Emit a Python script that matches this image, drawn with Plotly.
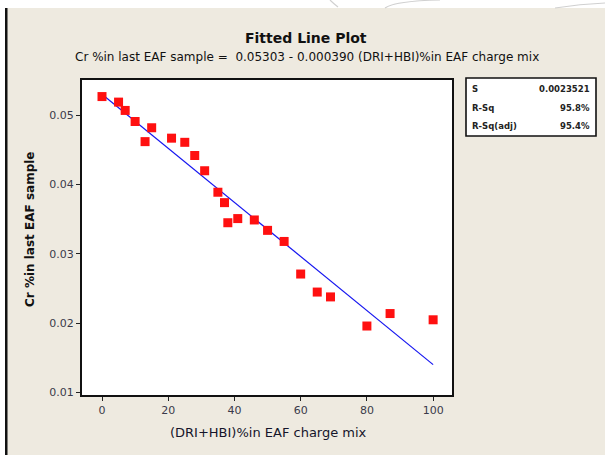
import plotly.graph_objects as go

# Observations: (DRI+HBI) share of the EAF charge mix vs Cr content of the last sample
dri_hbi_pct = [0, 5, 7, 10, 13, 15, 21, 25, 28, 31, 35, 37, 38, 41, 46, 50,
               55, 60, 65, 69, 80, 87, 100]
cr_pct = [0.0527, 0.0519, 0.0507, 0.0491, 0.0462, 0.0482, 0.0467, 0.0461,
          0.0442, 0.0420, 0.0389, 0.0374, 0.0345, 0.0351, 0.0349, 0.0334,
          0.0318, 0.0271, 0.0245, 0.0238, 0.0196, 0.0214, 0.0205]

# Regression summary
intercept = 0.05303
slope = -0.000390
stat_names = ["S", "R-Sq", "R-Sq(adj)"]
stat_values = ["0.0023521", "95.8%", "95.4%"]

x_ticks = [0, 20, 40, 60, 80, 100]
y_ticks = [0.01, 0.02, 0.03, 0.04, 0.05]

W, H = 605, 455
L, R, T, B = 82, 452, 80, 395
BG = "#EEEAE0"
FONT = "DejaVu Sans"


def px(x):
    return (x - L) / (R - L)


def py(y):
    return (B - y) / (B - T)


fit_x = [min(dri_hbi_pct), max(dri_hbi_pct)]
fit_y = [intercept + slope * v for v in fit_x]

fig = go.Figure()
fig.add_trace(go.Scatter(x=fit_x, y=fit_y, mode="lines",
                         line=dict(color="#1515F0", width=1.2),
                         hoverinfo="skip", showlegend=False))
fig.add_trace(go.Scatter(x=dri_hbi_pct, y=cr_pct, mode="markers",
                         marker=dict(symbol="square", size=9, color="#FF1010",
                                     line=dict(width=0)),
                         showlegend=False))

axis_common = dict(showgrid=False, zeroline=False, showline=True, mirror=True,
                   linecolor="#111", linewidth=2, ticks="outside", ticklen=4,
                   tickwidth=1, tickcolor="#222",
                   tickfont=dict(family=FONT, size=11, color="#3a3a4a"))
fig.update_xaxes(range=[-6.04, 105.7], tickvals=x_ticks,
                 ticktext=[str(v) for v in x_ticks], **axis_common)
fig.update_yaxes(range=[0.00965, 0.05509], tickvals=y_ticks,
                 ticktext=[f"{v:.2f}" for v in y_ticks], **axis_common)

shapes = [
    # white strip along the top and left of the page
    dict(type="rect", xref="paper", yref="paper", x0=px(0), x1=px(W),
         y0=py(8), y1=py(0), fillcolor="white", line=dict(width=0), layer="below"),
    dict(type="rect", xref="paper", yref="paper", x0=px(0), x1=px(5),
         y0=py(H), y1=py(0), fillcolor="white", line=dict(width=0), layer="below"),
    dict(type="rect", xref="paper", yref="paper", x0=px(5), x1=px(7.5),
         y0=py(H), y1=py(8), fillcolor="#111", line=dict(width=0), layer="below"),
    # faint page curves at the top
    dict(type="path", xref="paper", yref="paper",
         path=f"M {px(330)},{py(0)} Q {px(334)},{py(4)} {px(338)},{py(7)}",
         line=dict(color="#D0D0D0", width=1.2)),
    dict(type="path", xref="paper", yref="paper",
         path=f"M {px(385)},{py(8)} Q {px(395)},{py(1)} {px(440)},{py(0)}",
         line=dict(color="#D0D0D0", width=1.2)),
    dict(type="path", xref="paper", yref="paper",
         path=f"M {px(555)},{py(8)} Q {px(580)},{py(4)} {px(605)},{py(3)}",
         line=dict(color="#D0D0D0", width=1.2)),
    # statistics box
    dict(type="rect", xref="paper", yref="paper", x0=px(466), x1=px(596),
         y0=py(136), y1=py(78), fillcolor="white",
         line=dict(color="#111", width=1.6)),
]

annotations = [
    dict(text="<b>Fitted Line Plot</b>", x=px(306), y=py(38), xref="paper",
         yref="paper", showarrow=False, xanchor="center", yanchor="middle",
         font=dict(family=FONT, size=14, color="#111")),
    dict(text="Cr %in last EAF sample =  0.05303 - 0.000390 (DRI+HBI)%in EAF charge mix",
         x=px(307), y=py(57), xref="paper", yref="paper", showarrow=False,
         xanchor="center", yanchor="middle",
         font=dict(family=FONT, size=12, color="#111")),
    dict(text="(DRI+HBI)%in EAF charge mix", x=px(268), y=py(432), xref="paper",
         yref="paper", showarrow=False, xanchor="center", yanchor="middle",
         font=dict(family=FONT, size=13, color="#15152a")),
    dict(text="<b>Cr %in last EAF sample</b>", x=px(30), y=py(230), xref="paper",
         yref="paper", showarrow=False, xanchor="center", yanchor="middle",
         textangle=-90, font=dict(family=FONT, size=12, color="#111")),
]

row_y = [89, 107.5, 126]
for name, val, yy in zip(stat_names, stat_values, row_y):
    annotations.append(dict(text=f"<b>{name}</b>", x=px(470), y=py(yy),
                            xref="paper", yref="paper", showarrow=False,
                            xanchor="left", yanchor="middle",
                            font=dict(family=FONT, size=8.5, color="#222")))
    annotations.append(dict(text=f"<b>{val}</b>", x=px(592), y=py(yy),
                            xref="paper", yref="paper", showarrow=False,
                            xanchor="right", yanchor="middle",
                            font=dict(family=FONT, size=8.5, color="#222")))

fig.update_layout(width=W, height=H, paper_bgcolor=BG, plot_bgcolor="white",
                  margin=dict(l=L, r=W - R, t=T, b=H - B, autoexpand=False),
                  shapes=shapes, annotations=annotations, showlegend=False)

fig.write_html("out.html", config={"displayModeBar": False})
